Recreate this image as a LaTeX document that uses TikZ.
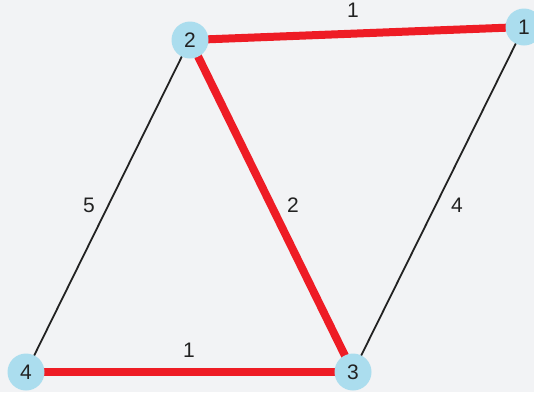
\documentclass[tikz,border=0pt]{standalone}
\usepackage{fontspec}
\setmainfont{Liberation Sans}
\definecolor{bg}{HTML}{F2F3F5}
\definecolor{nodeblue}{HTML}{ABDDEE}
\definecolor{edgered}{HTML}{EE1C25}
\definecolor{txt}{HTML}{222222}
\begin{document}
\begin{tikzpicture}[x=1pt,y=-1pt,
  vert/.style={circle,fill=nodeblue,minimum size=37pt,inner sep=0pt,font=\fontsize{21}{21}\selectfont,text=txt},
  thin edge/.style={draw=txt,line width=1.8pt},
  hot edge/.style={draw=edgered,line width=8pt},
  wlabel/.style={font=\fontsize{21}{21}\selectfont,text=txt}]
\fill[bg] (0,0) rectangle (534,392);
\useasboundingbox (0,0) rectangle (534,392);
\coordinate (c1) at (524,27);
\coordinate (c2) at (190,40);
\coordinate (c3) at (353,372);
\coordinate (c4) at (26,372);
\draw[thin edge] (c2) -- (c4);
\draw[thin edge] (c1) -- (c3);
\draw[hot edge] (c2) -- (c1);
\draw[hot edge] (c2) -- (c3);
\draw[hot edge] (c4) -- (c3);
\node[vert] (n1) at (c1) {1};
\node[vert] (n2) at (c2) {2};
\node[vert] (n3) at (c3) {3};
\node[vert] (n4) at (c4) {4};
\node[wlabel] (l21) at (353,10) {1};
\node[wlabel] (l23) at (293,205) {2};
\node[wlabel] (l13) at (457,205) {4};
\node[wlabel] (l24) at (89,205) {5};
\node[wlabel] (l43) at (189,350) {1};
\end{tikzpicture}
\end{document}
